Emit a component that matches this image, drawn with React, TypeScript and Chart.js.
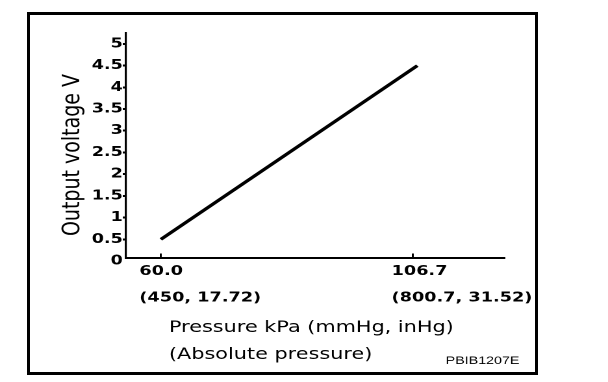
import React, { useEffect, useRef } from "react";
import { Chart, registerables } from "chart.js";

Chart.register(...registerables);

// ---- data ----
const pressureKpa = [60, 107.5];
const outputVoltage = [0.5, 4.5];
const xTickValues = [60, 106.7];
const xTickLabels = [
  ["60.0", "(450, 17.72)"],
  ["106.7", "(800.7, 31.52)"],
];
const yTickValues = [0, 0.5, 1, 1.5, 2, 2.5, 3, 3.5, 4, 4.5, 5];
const yTickLabels = ["0", "0.5", "1", "1.5", "2", "2.5", "3", "3.5", "4", "4.5", "5"];
const xTitleLines = ["Pressure kPa (mmHg, inHg)", "(Absolute pressure)"];
const yTitle = "Output voltage V";
const figureCode = "PBIB1207E";

// drawing surface (the reference is horizontally stretched)
const LOGICAL_W = 468;
const PAGE_W = 608;
const PAGE_H = 382;

const titlesPlugin = {
  id: "titles",
  afterDraw(chart: any) {
    const { ctx, chartArea: a } = chart;
    ctx.save();
    ctx.fillStyle = "#000";
    ctx.textBaseline = "middle";
    ctx.textAlign = "left";
    ctx.font = '16px "DejaVu Sans"';
    xTitleLines.forEach((t, i) => ctx.fillText(t, a.left + 33, a.bottom + 70 + i * 27));

    ctx.save();
    ctx.translate(a.left - 41, 155);
    ctx.rotate(-Math.PI / 2);
    ctx.textAlign = "center";
    ctx.font = '19px "DejaVu Sans"';
    ctx.fillText(yTitle, 0, 0);
    ctx.restore();

    ctx.textAlign = "left";
    ctx.font = '11px "Liberation Sans"';
    ctx.fillText(figureCode, a.right - 45, 361);

    ctx.restore();
  },
};

export default function App() {
  const canvasRef = useRef<HTMLCanvasElement | null>(null);

  useEffect(() => {
    const canvas = canvasRef.current;
    if (!canvas) return;
    const chart = new Chart(canvas, {
      type: "line",
      data: {
        datasets: [
          {
            data: pressureKpa.map((x, i) => ({ x, y: outputVoltage[i] })),
            borderColor: "#000",
            borderWidth: 3,
            pointRadius: 0,
            borderCapStyle: "butt",
            fill: false,
            tension: 0,
          },
        ],
      },
      options: {
        animation: false,
        responsive: false,
        devicePixelRatio: 2,
        layout: { padding: { left: 57, right: 80, top: 33, bottom: 64 } },
        plugins: { legend: { display: false }, tooltip: { enabled: false } },
        scales: {
          x: {
            type: "linear",
            min: 53.55,
            max: 123.56,
            afterBuildTicks: (s: any) => {
              s.ticks = xTickValues.map((v) => ({ value: v }));
            },
            afterFit: (s: any) => {
              s.height = 60;
            },
            ticks: {
              autoSkip: false,
              maxRotation: 0,
              minRotation: 0,
              align: "start",
              labelOffset: -16.5,
              padding: 4.9,
              color: "#000",
              font: { family: "DejaVu Sans", weight: "bold", size: 13.6, lineHeight: 1.95 },
              callback: (_v: any, i: number) => xTickLabels[i],
            },
            grid: {
              drawOnChartArea: false,
              drawTicks: true,
              tickLength: -4.5,
              color: "#000",
              lineWidth: 1.5,
            },
            border: { display: true, color: "#000", width: 2 },
          },
          y: {
            type: "linear",
            min: 0.07,
            max: 5.25,
            afterBuildTicks: (s: any) => {
              s.ticks = yTickValues.map((v) => ({ value: v }));
            },
            afterFit: (s: any) => {
              s.width = 40;
            },
            ticks: {
              autoSkip: false,
              padding: 0,
              color: "#000",
              font: { family: "DejaVu Sans", weight: "bold", size: 13.5 },
              callback: (_v: any, i: number) => yTickLabels[i],
            },
            grid: {
              drawOnChartArea: false,
              drawTicks: true,
              tickLength: 2.5,
              color: (c: any) => (c.index === 0 ? "rgba(0,0,0,0)" : "#000"),
              lineWidth: 2,
            },
            border: { display: true, color: "#000", width: 1.6 },
          },
        },
      } as any,
      plugins: [titlesPlugin],
    });
    return () => chart.destroy();
  }, []);

  return (
    <>
      <div
        style={{
          position: "absolute",
          left: 27,
          top: 12,
          width: 511,
          height: 363,
          border: "3px solid #000",
          boxSizing: "border-box",
        }}
      />
      <canvas
        ref={canvasRef}
        width={LOGICAL_W}
        height={PAGE_H}
        style={{ position: "absolute", left: 0, top: 0, width: PAGE_W + "px", height: PAGE_H + "px" }}
      />
    </>
  );
}
